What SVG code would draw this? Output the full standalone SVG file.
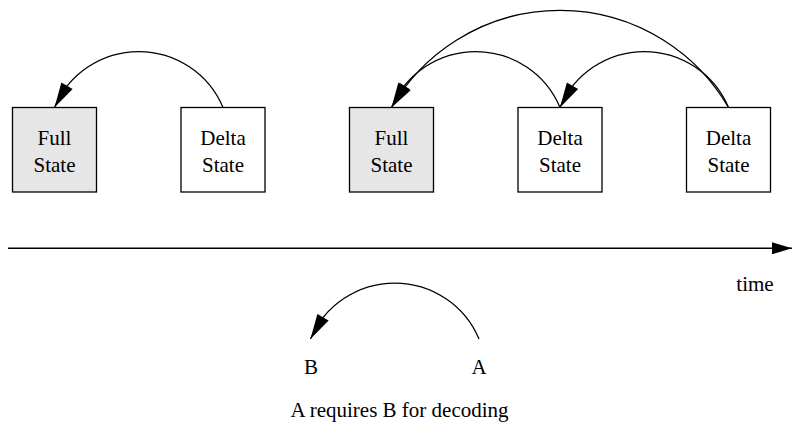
<svg xmlns="http://www.w3.org/2000/svg" width="792" height="429" viewBox="0 0 792 429" font-family="Liberation Serif, Times New Roman, serif">
  <style>
    .box { fill: #ffffff; stroke: #000000; stroke-width: 1.3; }
    .full { fill: #e6e6e6; }
    .lbl { font-family: 'Liberation Serif', 'Times New Roman', serif; font-size: 21px; fill: #000000; text-anchor: middle; }
    .arc { fill: none; stroke: #000000; stroke-width: 1.3; }
    .axis { fill: none; stroke: #000000; stroke-width: 1.6; }
    .head { fill: #000000; stroke: none; }
  </style>
  <defs>
    <!-- filled arrowhead, tip at origin, pointing along +x -->
    <path id="head" d="M0,0 L-25,-6.5 L-25,6.5 Z"/>
    <marker id="axisHead" markerUnits="userSpaceOnUse" markerWidth="20" markerHeight="12" refX="20" refY="6" orient="auto">
      <path d="M0,0 L20,6 L0,12 Z" fill="#000000"/>
    </marker>
  </defs>

  <rect width="792" height="429" fill="#ffffff"/>

  <!-- first sequence -->
  <g id="full1">
    <rect class="box full" x="12.5" y="107.5" width="84" height="84.5"/>
    <text class="lbl" x="54.5" y="145">Full</text>
    <text class="lbl" x="54.5" y="172">State</text>
  </g>
  <g id="delta1">
    <rect class="box" x="181" y="107.5" width="84" height="84.5"/>
    <text class="lbl" x="223" y="145">Delta</text>
    <text class="lbl" x="223" y="172">State</text>
  </g>

  <!-- second sequence -->
  <g id="full2">
    <rect class="box full" x="349.5" y="107.5" width="84" height="84.5"/>
    <text class="lbl" x="391.5" y="145">Full</text>
    <text class="lbl" x="391.5" y="172">State</text>
  </g>
  <g id="delta2">
    <rect class="box" x="518" y="107.5" width="84" height="84.5"/>
    <text class="lbl" x="560" y="145">Delta</text>
    <text class="lbl" x="560" y="172">State</text>
  </g>
  <g id="delta3">
    <rect class="box" x="686.5" y="107.5" width="84" height="84.5"/>
    <text class="lbl" x="728.5" y="145">Delta</text>
    <text class="lbl" x="728.5" y="172">State</text>
  </g>

  <!-- time axis -->
  <g id="timeline">
    <line class="axis" x1="8" y1="248.3" x2="792" y2="248.3" marker-end="url(#axisHead)"/>
    <text class="lbl" x="755" y="291">time</text>
  </g>

  <!-- legend -->
  <g id="legendB">
    <text class="lbl" x="311" y="374">B</text>
  </g>
  <g id="legendA">
    <text class="lbl" x="479" y="374">A</text>
  </g>
  <g id="caption">
    <text class="lbl" x="399.5" y="417">A requires B for decoding</text>
  </g>

  <!-- dependency arcs -->
  <g id="connectors">
    <path class="arc" d="M223,107.5 A91.4,91.4 0 0 0 54.5,107.5"/>
    <use href="#head" class="head" transform="translate(54.5,107.5) rotate(120)"/>

    <path class="arc" d="M560,107.5 A91.4,91.4 0 0 0 391.5,107.5"/>
    <path class="arc" d="M728.5,107.5 A91.4,91.4 0 0 0 560,107.5"/>
    <path class="arc" d="M728.5,107.5 A194.7,194.7 0 0 0 391.5,107.5"/>
    <use href="#head" class="head" transform="translate(391.5,107.5) rotate(123.5)"/>
    <use href="#head" class="head" transform="translate(391.5,107.5) rotate(120)"/>
    <use href="#head" class="head" transform="translate(560,107.5) rotate(120)"/>

    <path class="arc" d="M479,339 A91.4,91.4 0 0 0 310.5,339"/>
    <use href="#head" class="head" transform="translate(310.5,339) rotate(120)"/>
  </g>
</svg>
